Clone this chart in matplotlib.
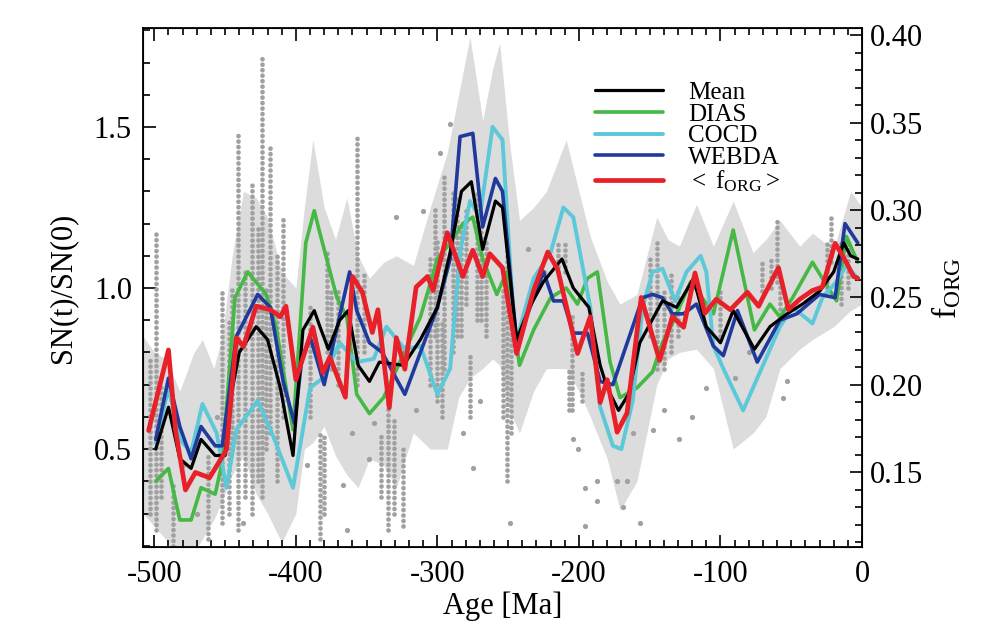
import matplotlib
matplotlib.use("Agg")
import matplotlib.pyplot as plt
from matplotlib.ticker import MultipleLocator

plt.rcParams['font.family'] = ['Liberation Serif', 'DejaVu Serif']
plt.rcParams['mathtext.fontset'] = 'custom'
plt.rcParams['mathtext.rm'] = 'Liberation Serif'
plt.rcParams['mathtext.it'] = 'Liberation Serif:italic'
plt.rcParams['axes.unicode_minus'] = False

# ---------------- data ----------------
mean_x = [-499, -490, -482, -474, -467, -457, -450, -446, -440, -428, -420, -411, -402, -395, -387, -383,
          -377, -369, -363, -356, -348, -341, -324, -312, -300, -291, -283, -276, -268, -259, -254, -244,
          -235, -225, -212, -204, -193, -185, -180, -172, -165, -157, -141, -131, -119, -110, -100, -91,
          -76, -65, -53, -42, -30, -20, -13, -8, -3]
mean_y = [0.50, 0.63, 0.47, 0.44, 0.53, 0.48, 0.48, 0.66, 0.80, 0.88, 0.84, 0.69, 0.48, 0.87, 0.93, 0.88,
          0.81, 0.90, 0.93, 0.76, 0.71, 0.77, 0.76, 0.84, 0.94, 1.11, 1.30, 1.33, 1.12, 1.27, 1.25, 0.84,
          0.94, 1.02, 1.09, 1.00, 0.94, 0.76, 0.69, 0.62, 0.67, 0.83, 0.96, 0.94, 1.03, 0.88, 0.83, 0.93,
          0.81, 0.88, 0.92, 0.95, 0.99, 1.05, 1.14, 1.10, 1.09]

dias_x = [-499, -490, -482, -474, -467, -457, -452, -443, -434, -421, -414, -402, -393, -387, -383, -371,
          -364, -357, -348, -338, -312, -300, -291, -282, -275, -268, -258, -251, -242, -232, -220, -209,
          -201, -194, -187, -178, -171, -159, -148, -141, -134, -121, -105, -91, -76, -65, -58, -49, -35,
          -28, -18, -11, -5, -3]
dias_y = [0.40, 0.44, 0.28, 0.28, 0.38, 0.36, 0.46, 0.97, 1.05, 0.98, 0.88, 0.56, 1.14, 1.24, 1.17, 0.97,
          0.91, 0.67, 0.61, 0.66, 0.91, 1.09, 1.14, 1.20, 1.22, 1.09, 0.98, 1.05, 0.76, 0.87, 0.97, 1.00,
          0.95, 1.03, 1.05, 0.77, 0.66, 0.69, 0.74, 0.83, 0.89, 1.02, 0.92, 1.18, 0.87, 0.95, 0.91, 0.97,
          1.08, 1.03, 0.96, 1.16, 1.10, 1.08]

cocd_x = [-499, -490, -482, -474, -466, -456, -449, -442, -427, -416, -402, -390, -381, -369, -357, -345,
          -336, -323, -312, -300, -291, -284, -277, -270, -261, -254, -247, -244, -232, -220, -211, -204,
          -192, -185, -176, -170, -162, -155, -148, -141, -132, -124, -114, -110, -105, -98, -84, -72, -58,
          -49, -35, -28, -18, -11, -3]
cocd_y = [0.52, 0.69, 0.53, 0.49, 0.64, 0.55, 0.38, 0.56, 0.65, 0.54, 0.38, 0.69, 0.72, 0.83, 0.77, 0.78,
          0.88, 0.81, 0.82, 0.67, 0.75, 1.11, 1.27, 1.22, 1.50, 1.46, 0.96, 0.84, 1.03, 1.11, 1.25, 1.22,
          0.94, 0.63, 0.51, 0.50, 0.65, 0.94, 1.05, 1.06, 0.96, 1.05, 1.10, 1.05, 0.82, 0.75, 0.62, 0.74,
          0.88, 0.94, 0.89, 0.97, 1.02, 1.07, 1.03]

webda_x = [-499, -490, -482, -474, -467, -457, -452, -442, -435, -427, -418, -409, -401, -396, -390, -380,
           -362, -357, -348, -339, -323, -312, -300, -291, -284, -275, -268, -259, -254, -244, -225, -218,
           -211, -204, -194, -185, -176, -155, -148, -141, -134, -126, -117, -105, -98, -88, -74, -58, -46,
           -30, -19, -12, -6, -3]
webda_y = [0.53, 0.72, 0.57, 0.47, 0.57, 0.51, 0.51, 0.85, 0.91, 0.98, 0.94, 0.71, 0.58, 0.77, 0.85, 0.70,
           1.05, 0.93, 0.83, 0.80, 0.67, 0.80, 0.94, 1.09, 1.47, 1.48, 1.19, 1.34, 1.30, 0.83, 1.05, 0.96,
           0.96, 0.86, 0.86, 0.71, 0.70, 0.97, 0.98, 0.97, 0.92, 0.92, 0.95, 0.82, 0.79, 0.93, 0.77, 0.90,
           0.92, 0.98, 0.97, 1.20, 1.16, 1.14]

forg_x = [-504, -490, -485, -478, -471, -461, -449, -442, -437, -428, -418, -411, -407, -400, -388, -381,
          -376, -365, -360, -353, -346, -342, -334, -329, -323, -315, -307, -303, -293, -286, -282, -275,
          -268, -263, -254, -244, -232, -222, -215, -201, -192, -185, -180, -173, -166, -156, -143, -134,
          -126, -118, -111, -103, -93, -81, -73, -70, -59, -52, -44, -35, -28, -19, -13, -6, -3]
forg_y = [0.174, 0.220, 0.174, 0.140, 0.150, 0.147, 0.163, 0.227, 0.222, 0.245, 0.243, 0.239, 0.245, 0.203,
          0.233, 0.207, 0.216, 0.193, 0.262, 0.253, 0.230, 0.243, 0.187, 0.227, 0.209, 0.256, 0.262, 0.254,
          0.287, 0.271, 0.262, 0.277, 0.262, 0.275, 0.267, 0.218, 0.254, 0.276, 0.266, 0.218, 0.239, 0.190,
          0.203, 0.173, 0.184, 0.250, 0.214, 0.239, 0.233, 0.264, 0.241, 0.249, 0.243, 0.253, 0.245, 0.250,
          0.267, 0.243, 0.249, 0.254, 0.256, 0.281, 0.273, 0.262, 0.261]

band_x = [-508, -500, -492, -482, -472, -466, -458, -452, -445, -437, -428, -420, -410, -400, -394, -388,
          -380, -372, -364, -356, -348, -338, -329, -317, -305, -293, -285, -277, -268, -261, -256, -249,
          -242, -232, -223, -209, -200, -192, -180, -171, -159, -145, -137, -129, -117, -105, -91, -77,
          -68, -58, -44, -35, -20, -8, 0]
band_hi = [0.85, 0.80, 0.78, 0.68, 0.80, 0.84, 0.75, 0.85, 1.10, 1.30, 1.28, 1.22, 1.05, 1.00, 1.25, 1.46,
           1.25, 1.15, 1.28, 1.10, 1.03, 1.08, 1.10, 1.07, 1.25, 1.42, 1.60, 1.78, 1.52, 1.68, 1.76, 1.45,
           1.21, 1.25, 1.30, 1.46, 1.30, 1.16, 1.02, 0.95, 0.98, 1.22, 1.15, 1.13, 1.26, 1.13, 1.27, 1.11,
           1.15, 1.21, 1.13, 1.17, 1.12, 1.30, 1.25]
band_lo = [0.30, 0.26, 0.22, 0.15, 0.18, 0.22, 0.28, 0.34, 0.42, 0.48, 0.36, 0.30, 0.21, 0.30, 0.50, 0.52,
           0.57, 0.48, 0.42, 0.38, 0.47, 0.45, 0.38, 0.55, 0.50, 0.50, 0.66, 0.72, 0.75, 0.78, 0.76, 0.62,
           0.55, 0.68, 0.75, 0.75, 0.68, 0.60, 0.47, 0.31, 0.40, 0.70, 0.78, 0.80, 0.81, 0.75, 0.50, 0.55,
           0.60, 0.75, 0.81, 0.84, 0.88, 0.93, 0.95]

streak_x = [-503, -499, -495, -487, -462, -452, -447, -445, -441, -436, -431, -427, -424, -421, -418, -413,
            -409, -390, -383, -380, -378, -375, -370, -357, -352, -340, -335, -331, -324, -305, -302, -300,
            -297, -295, -289, -286, -283, -280, -277, -272, -269, -266, -254, -251, -248, -215, -210, -207,
            -205, -198, -150, -145, -140, -135, -130, -100, -71, -64, -60, -58, -25, -22, -15, -10]
streak_lo = [0.30, 0.25, 0.35, 0.20, 0.22, 0.27, 0.30, 0.50, 0.25, 0.35, 0.30, 0.40, 0.35, 0.50, 0.55, 0.40,
             0.60, 0.60, 0.22, 0.30, 0.80, 0.75, 0.70, 0.70, 0.80, 0.35, 0.25, 0.30, 0.26, 0.70, 0.85, 0.65,
             0.60, 0.75, 0.80, 0.85, 0.85, 0.95, 0.60, 0.90, 0.90, 0.85, 0.60, 0.40, 0.55, 1.05, 1.05, 0.62,
             0.62, 0.65, 0.85, 0.75, 0.75, 0.80, 0.85, 0.85, 0.99, 1.00, 1.02, 0.90, 1.00, 1.08, 0.95, 1.00]
streak_hi = [0.78, 1.17, 0.70, 0.40, 0.48, 1.00, 0.90, 1.00, 1.48, 1.05, 1.32, 1.20, 1.72, 1.00, 1.45, 1.10,
             1.22, 0.95, 0.55, 0.55, 1.12, 1.00, 1.00, 1.47, 1.05, 0.55, 0.70, 0.60, 0.50, 1.10, 1.25, 1.15,
             0.90, 1.35, 1.30, 1.28, 1.20, 1.25, 0.80, 1.30, 1.20, 1.15, 1.00, 1.18, 0.95, 1.15, 1.15, 0.75,
             0.92, 0.75, 1.10, 1.15, 1.00, 1.05, 1.00, 1.00, 1.09, 1.10, 1.21, 1.05, 1.15, 1.22, 1.15, 1.15]

dot_x = [-249, -196, -157, -196, -187, -169, -173, -166, -187, -201, -204, -129, -162, -148, -110, -56,
         -53, -364, -275, -270, -282, -360, -348, -367, -437, -291, -298, -329, -310, -236, -225, -120,
         -90, -80, -140, -480, -470, -456, -392, -345, -315]
dot_y = [0.27, 0.26, 0.27, 0.38, 0.34, 0.32, 0.40, 0.40, 0.40, 0.50, 0.53, 0.53, 0.55, 0.56, 0.69, 0.66,
         0.71, 0.25, 0.44, 0.65, 0.55, 0.55, 0.47, 0.39, 0.27, 1.51, 1.42, 1.22, 1.24, 1.12, 1.05, 0.60,
         0.72, 0.80, 0.62, 0.45, 0.30, 0.60, 0.45, 0.58, 0.62]

xticks = [-500, -400, -300, -200, -100, 0]

# ---------------- figure ----------------
fig = plt.figure(figsize=(10, 6.4), dpi=100)
ax = fig.add_axes([0.143, 0.1453, 0.719, 0.8109])

band_col = '#dcdcdc'
dot_col = '#a0a0a0'
ax.fill_between(band_x, band_lo, band_hi, color=band_col, lw=0, zorder=1)
ax.vlines(streak_x, streak_lo, streak_hi, colors=dot_col, linewidth=3.4,
          linestyles=[(0, (0.01, 1.15))], capstyle='round', zorder=2)
ax.scatter(dot_x, dot_y, s=14, color=dot_col, lw=0, zorder=2)

kw = dict(solid_joinstyle='round', solid_capstyle='round')
l_dias, = ax.plot(dias_x, dias_y, color='#45b845', lw=2.6, zorder=3, **kw)
l_cocd, = ax.plot(cocd_x, cocd_y, color='#5cc8d8', lw=2.8, zorder=3, **kw)
l_webda, = ax.plot(webda_x, webda_y, color='#1f3a9c', lw=2.6, zorder=4, **kw)
l_mean, = ax.plot(mean_x, mean_y, color='black', lw=2.3, zorder=5, **kw)

ax.set_xlim(-508, 0)
ax.set_ylim(0.196, 1.807)
ax.set_xticks(xticks)
ax.xaxis.set_minor_locator(MultipleLocator(10))
ax.yaxis.set_major_locator(MultipleLocator(0.5))
ax.yaxis.set_minor_locator(MultipleLocator(0.1))
ax.tick_params(axis='both', which='both', direction='in', top=True, right=False, width=1.2)
ax.tick_params(axis='both', which='major', length=9, labelsize=22)
ax.tick_params(axis='both', which='minor', length=5)
ax.tick_params(axis='x', which='major', pad=9)
ax.tick_params(axis='y', which='major', pad=8)
ax.set_xlabel('Age [Ma]', fontsize=22, labelpad=2)
ax.set_ylabel('SN(t)/SN(0)', fontsize=22, labelpad=12)
for s in ax.spines.values():
    s.set_linewidth(1.3)

ax2 = ax.twinx()
l_forg, = ax2.plot(forg_x, forg_y, color='#e8202a', lw=3.4, zorder=6, **kw)
ax2.set_ylim(0.1074, 0.404)
ax2.yaxis.set_major_locator(MultipleLocator(0.05))
ax2.yaxis.set_minor_locator(MultipleLocator(0.01))
ax2.yaxis.set_major_formatter(matplotlib.ticker.FormatStrFormatter('%.2f'))
ax2.tick_params(axis='y', which='both', direction='in', width=1.2)
ax2.tick_params(axis='y', which='major', length=9, labelsize=22, pad=6)
ax2.tick_params(axis='y', which='minor', length=5)
ax2.set_ylabel(r'$\mathrm{f}_{\mathrm{ORG}}$', fontsize=24, labelpad=4)
yt = ax2.get_yticks()
ax2.set_yticks([t for t in yt if 0.14 < t < 0.41])

handles = [l_mean, l_dias, l_cocd, l_webda, l_forg]
labels = ['Mean', 'DIAS', 'COCD', 'WEBDA', r'$<\ \mathrm{f}_{\mathrm{ORG}}>$']
leg = ax2.legend(handles, labels, loc='upper left', bbox_to_anchor=(0.629, 0.897),
                 frameon=False, fontsize=18, handlelength=2.7, handletextpad=1.0,
                 labelspacing=-0.03, borderpad=0, borderaxespad=0)

fig.savefig('out.png', dpi=100)
